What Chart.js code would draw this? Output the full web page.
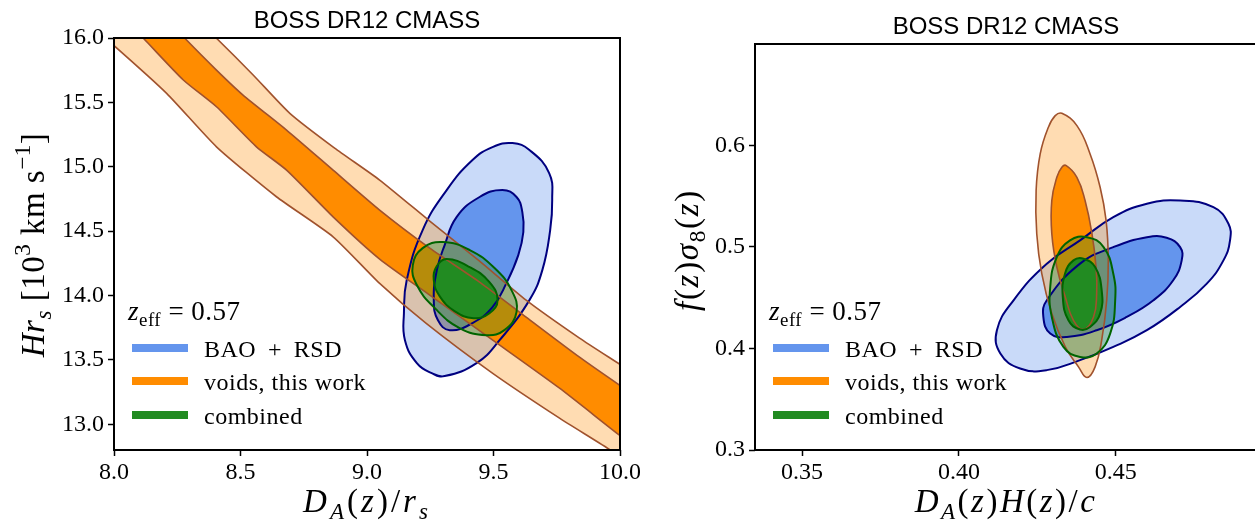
<!DOCTYPE html>
<html>
<head>
<meta charset="utf-8">
<script src="https://cdn.jsdelivr.net/npm/chart.js@4.4.1/dist/chart.umd.min.js"></script>
<style>
  html, body { margin: 0; padding: 0; background: #fff; overflow: hidden; width: 1255px; height: 520px; }
  #left { position: absolute; left: 0; top: 0; }
  #right { position: absolute; left: 640px; top: 0; }
</style>
</head>
<body>
<canvas id="left" width="640" height="520"></canvas>
<canvas id="right" width="640" height="520"></canvas>
<script>
const panelTitle = 'BOSS DR12 CMASS';
const seriesNames = ['BAO \u2009+\u2009 RSD', 'voids, this work', 'combined'];
const zEff = '0.57';

const xTicksL = [8.0, 8.5, 9.0, 9.5, 10.0];
const yTicksL = [13.0, 13.5, 14.0, 14.5, 15.0, 15.5, 16.0];
const xTicksR = [0.35, 0.40, 0.45];
const yTicksR = [0.3, 0.4, 0.5, 0.6];

// left panel: D_A/r_s vs H r_s
// voids band edges (outer 2 sigma, inner 1 sigma), read left -> right
const voidsOuterUpperL = [[8.34,16.117],[8.405,15.998],[8.55,15.713],[8.695,15.415],[8.872,15.145],[9.05,14.897],[9.248,14.578],[9.445,14.267],[9.629,13.964],[9.84,13.669],[9.998,13.467],[10.12,13.31]];
const voidsOuterLowerL = [[7.925,16.062],[7.997,15.946],[8.208,15.57],[8.405,15.155],[8.642,14.767],[8.866,14.456],[9.05,14.094],[9.234,13.783],[9.497,13.395],[9.761,13.047],[9.952,12.812],[10.077,12.643]];
const voidsInnerUpperL = [[8.221,16.124],[8.28,15.998],[8.405,15.751],[8.51,15.557],[8.682,15.285],[8.866,14.974],[9.05,14.664],[9.248,14.368],[9.445,14.104],[9.629,13.832],[9.84,13.521],[9.998,13.304],[10.116,13.148]];
const voidsInnerLowerL = [[8.043,16.14],[8.116,15.998],[8.274,15.674],[8.405,15.466],[8.563,15.155],[8.682,14.974],[8.866,14.611],[9.05,14.283],[9.248,14.003],[9.497,13.653],[9.761,13.28],[9.998,12.915],[10.116,12.744]];

const baoOuterL = [[9.575,15.184],[9.642,15.13],[9.72,14.951],[9.732,14.741],[9.724,14.508],[9.693,14.197],[9.642,13.964],[9.524,13.653],[9.433,13.475],[9.307,13.374],[9.256,13.397],[9.197,13.475],[9.15,13.653],[9.146,13.863],[9.157,14.12],[9.22,14.508],[9.315,14.819],[9.417,15.052],[9.496,15.153]];
const baoInnerL = [[9.535,14.819],[9.591,14.765],[9.614,14.648],[9.618,14.493],[9.598,14.314],[9.551,14.096],[9.496,13.91],[9.417,13.786],[9.327,13.731],[9.28,13.809],[9.264,13.964],[9.276,14.197],[9.307,14.392],[9.354,14.609],[9.445,14.765]];
const combOuterL = [[9.299,14.415],[9.406,14.353],[9.504,14.213],[9.571,14.042],[9.591,13.871],[9.543,13.731],[9.472,13.692],[9.366,13.747],[9.268,13.902],[9.197,14.081],[9.181,14.236],[9.22,14.368]];
const combInnerL = [[9.315,14.283],[9.406,14.221],[9.484,14.104],[9.516,13.964],[9.484,13.863],[9.421,13.824],[9.346,13.879],[9.287,13.995],[9.264,14.12],[9.276,14.228]];

// right panel: D_A H / c vs f sigma_8
const baoOuterR = [[0.4121,0.4180],[0.4174,0.4475],[0.4280,0.4836],[0.4386,0.5065],[0.4492,0.5294],[0.4599,0.5426],[0.4705,0.5458],[0.4811,0.5392],[0.4859,0.5229],[0.4864,0.5065],[0.4843,0.4868],[0.4790,0.4639],[0.4705,0.4409],[0.4599,0.4180],[0.4492,0.4016],[0.4386,0.3885],[0.4280,0.3787],[0.4195,0.3803],[0.4132,0.3951]];
const baoInnerR = [[0.4269,0.4311],[0.4280,0.4475],[0.4386,0.4836],[0.4492,0.4999],[0.4599,0.5097],[0.4662,0.5091],[0.4705,0.4999],[0.4710,0.4868],[0.4683,0.4672],[0.4620,0.4475],[0.4535,0.4311],[0.4439,0.4180],[0.4344,0.4114],[0.4291,0.4147]];
const voidsOuterR = [[0.4328,0.6317],[0.4376,0.6196],[0.4418,0.5917],[0.4450,0.5589],[0.4469,0.5262],[0.4476,0.4868],[0.4471,0.4475],[0.4455,0.4082],[0.4434,0.3819],[0.4408,0.3715],[0.4381,0.3819],[0.4339,0.4016],[0.4296,0.4344],[0.4264,0.4737],[0.4248,0.5131],[0.4246,0.5557],[0.4259,0.5917],[0.4285,0.6179],[0.4307,0.6294]];
const voidsInnerR = [[0.4342,0.5802],[0.4376,0.5687],[0.4402,0.5458],[0.4424,0.5131],[0.4437,0.4802],[0.4439,0.4541],[0.4429,0.4311],[0.4397,0.4187],[0.4365,0.4278],[0.4339,0.4507],[0.4312,0.4802],[0.4296,0.5131],[0.4296,0.5458],[0.4312,0.5687],[0.4328,0.5786]];
const combOuterR = [[0.4408,0.5097],[0.4461,0.4999],[0.4492,0.4737],[0.4498,0.4475],[0.4482,0.4147],[0.4439,0.3951],[0.4386,0.3917],[0.4333,0.4016],[0.4296,0.4311],[0.4291,0.4606],[0.4312,0.4901],[0.4354,0.5065]];
const combInnerR = [[0.4397,0.4885],[0.4434,0.4802],[0.4455,0.4573],[0.4450,0.4344],[0.4418,0.4212],[0.4386,0.4187],[0.4349,0.4278],[0.4331,0.4507],[0.4338,0.4737],[0.4365,0.4868]];

const styles = [
  {key: '#6495ED', outer: 'rgba(100,149,237,0.35)', inner: '#6495ED', edge: '#000080', w: 2},
  {key: '#FF8C00', outer: 'rgba(255,140,0,0.3)', inner: '#FF8C00', edge: '#A0522D', w: 1.6},
  {key: '#228B22', outer: 'rgba(34,139,34,0.33)', inner: '#228B22', edge: '#006400', w: 2}
];

const pts = a => a.map(([x, y]) => ({x, y}));
const band = (upper, lower) => pts(upper.concat(lower.slice().reverse()));

function contour(label, data, fill, st, closed) {
  return {
    label, data, showLine: true, fill: 'shape',
    backgroundColor: fill, borderColor: st.edge, borderWidth: st.w,
    pointRadius: 0, pointHoverRadius: 0,
    tension: closed ? 0.45 : 0.2, capBezierPoints: false, clip: 0, closed
  };
}

function withOrder(list) {
  list.forEach((d, i) => { d.order = list.length - i; });
  return list;
}

function rich(ctx, parts, cx, cy, size, vertical, align, spacing) {
  const fontOf = p => {
    const small = p[1].includes('_') || p[1].includes('^');
    return (p[1][0] === 'i' ? 'italic ' : '') + (small ? size * 0.7 : size) + 'px "Liberation Serif"';
  };
  ctx.save();
  ctx.letterSpacing = (spacing || 0) + 'px';
  let w = 0;
  parts.forEach(p => { ctx.font = fontOf(p); w += ctx.measureText(p[0]).width; });
  ctx.translate(cx, cy);
  if (vertical) ctx.rotate(-Math.PI / 2);
  ctx.textAlign = 'left';
  ctx.textBaseline = 'alphabetic';
  let x = align === 'left' ? 0 : -w / 2;
  parts.forEach(p => {
    ctx.font = fontOf(p);
    const dy = p[1].includes('_') ? size * 0.22 : p[1].includes('^') ? -size * 0.42 : 0;
    ctx.fillText(p[0], x, dy);
    x += ctx.measureText(p[0]).width;
  });
  ctx.restore();
}

const deco = {
  id: 'deco',
  afterDatasetUpdate(chart, args) {
    const ds = chart.data.datasets[args.index];
    if (ds.closed) {
      // close the contour so the spline wraps round smoothly
      const line = args.meta.dataset;
      line._loop = true;
      line._fullLoop = true;
      delete line._segments;
      delete line._path;
      line._pointsUpdated = false;
    }
  },
  afterDraw(chart, args, o) {
    const ctx = chart.ctx, a = chart.chartArea;
    ctx.save();
    ctx.strokeStyle = '#000';
    ctx.lineWidth = 2;
    ctx.strokeRect(a.left, a.top, a.right - a.left, a.bottom - a.top);

    ctx.fillStyle = '#000';
    ctx.font = '24px "Liberation Sans"';
    ctx.textAlign = 'center';
    ctx.textBaseline = 'alphabetic';
    ctx.fillText(panelTitle, (a.left + a.right) / 2, o.titleY);

    rich(ctx, o.xLabel, (a.left + a.right) / 2, o.xLabelY, 33, false, 'center', o.xSpacing);
    rich(ctx, o.yLabel, o.yLabelX, o.yLabelY, 33, true, 'center', o.ySpacing);

    // legend
    rich(ctx, [['z', 'i'], ['eff', 'r_'], [' = ' + zEff, 'r']], a.left + 14, 320, 27, false, 'left', 0.5);
    const rows = [348, 381, 415];
    ctx.letterSpacing = '0.5px';
    seriesNames.forEach((name, i) => {
      ctx.fillStyle = styles[i].key;
      ctx.fillRect(a.left + 18, rows[i] - 4, 56, 8);
      ctx.fillStyle = '#000';
      ctx.font = '24px "Liberation Serif"';
      ctx.textAlign = 'left';
      ctx.fillText(name, a.left + 90, rows[i] + 9);
    });
    ctx.restore();
  }
};

function axis(min, max, ticks, fmt, pad, afterFit) {
  return {
    type: 'linear', min, max,
    afterBuildTicks: s => { s.ticks = ticks.map(v => ({value: v})); },
    afterFit,
    ticks: {
      callback: v => v.toFixed(fmt), color: '#000', padding: pad,
      font: {family: 'Liberation Serif', size: 24}, maxRotation: 0, autoSkip: false
    },
    grid: {display: true, drawOnChartArea: false, drawTicks: true, tickLength: 6, tickWidth: 1.5, tickColor: '#000'},
    border: {display: false}
  };
}

function makeChart(id, datasets, scales, padding, decoOpts) {
  return new Chart(document.getElementById(id), {
    type: 'scatter',
    data: {datasets},
    options: {
      responsive: false,
      animation: false,
      events: [],
      layout: {padding},
      scales,
      plugins: {
        legend: {display: false},
        tooltip: {enabled: false},
        filler: {drawTime: 'beforeDatasetsDraw'},
        deco: decoOpts
      }
    },
    plugins: [deco]
  });
}

makeChart('left', withOrder([
  contour(seriesNames[0], pts(baoOuterL), styles[0].outer, styles[0], true),
  contour(seriesNames[0], pts(baoInnerL), styles[0].inner, styles[0], true),
  contour(seriesNames[1], band(voidsOuterUpperL, voidsOuterLowerL), styles[1].outer, styles[1], false),
  contour(seriesNames[1], band(voidsInnerUpperL, voidsInnerLowerL), styles[1].inner, styles[1], false),
  contour(seriesNames[2], pts(combOuterL), styles[2].outer, styles[2], true),
  contour(seriesNames[2], pts(combInnerL), styles[2].inner, styles[2], true)
]), {
  x: axis(8, 10, xTicksL, 1, 2, s => { s.height = 70; s.paddingLeft = 0; s.paddingRight = 0; }),
  y: axis(12.8, 16, yTicksL, 1, 4, s => { s.width = 114; })
}, {left: 0, right: 20, top: 38, bottom: 0}, {
  titleY: 28, xLabelY: 512, yLabelX: 44, yLabelY: 245, xSpacing: 3, ySpacing: 0.5,
  xLabel: [['D','i'],['A','i_'],['(','r'],['z','i'],[')','r'],['/','r'],['r','i'],['s','i_']],
  yLabel: [['H','i'],['r','i'],['s','i_'],[' [10','r'],['3','r^'],[' km s','r'],['\u22121','r^'],[']','r']]
});

makeChart('right', withOrder([
  contour(seriesNames[0], pts(baoOuterR), styles[0].outer, styles[0], true),
  contour(seriesNames[0], pts(baoInnerR), styles[0].inner, styles[0], true),
  contour(seriesNames[1], pts(voidsOuterR), styles[1].outer, styles[1], true),
  contour(seriesNames[1], pts(voidsInnerR), styles[1].inner, styles[1], true),
  contour(seriesNames[2], pts(combOuterR), styles[2].outer, styles[2], true),
  contour(seriesNames[2], pts(combInnerR), styles[2].inner, styles[2], true)
]), {
  x: axis(0.335, 0.495, xTicksR, 2, 2, s => { s.height = 70; s.paddingLeft = 0; s.paddingRight = 0; }),
  y: axis(0.3, 0.7, yTicksR, 1, 4, s => { s.width = 115; })
}, {left: 0, right: 23, top: 44, bottom: 0}, {
  titleY: 34, xLabelY: 512, yLabelX: 58, yLabelY: 250, xSpacing: 2.5, ySpacing: 1.7,
  xLabel: [['D','i'],['A','i_'],['(','r'],['z','i'],[')','r'],['H','i'],['(','r'],['z','i'],[')','r'],['/','r'],['c','i']],
  yLabel: [['f','i'],['(','r'],['z','i'],[')','r'],['\u03C3','i'],['8','r_'],['(','r'],['z','i'],[')','r']]
});
</script>
</body>
</html>
